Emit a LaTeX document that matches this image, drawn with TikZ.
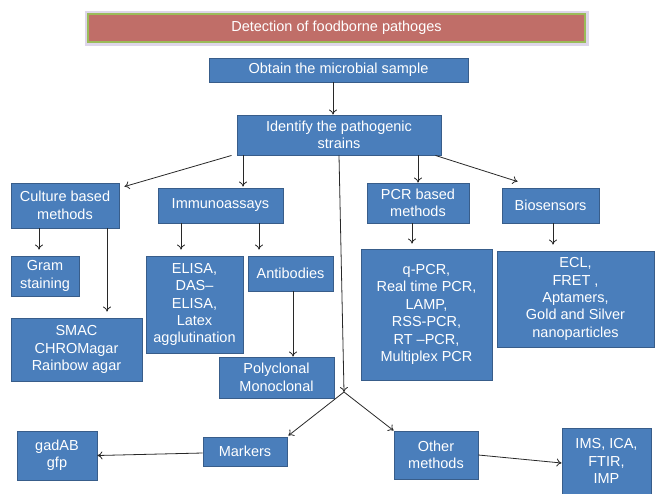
\documentclass[tikz,border=0pt]{standalone}
\usepackage{fontspec}
\setmainfont{Liberation Sans}
\usetikzlibrary{arrows.meta}
\definecolor{boxfill}{RGB}{74,126,187}
\definecolor{boxline}{RGB}{56,93,138}
\definecolor{titlefill}{RGB}{192,110,104}
\definecolor{titleline}{RGB}{155,187,89}
\definecolor{glow}{RGB}{222,214,234}
\definecolor{arrcol}{RGB}{40,40,40}
\begin{document}
\begin{tikzpicture}[x=1pt,y=-1pt,
  bx/.style={draw=boxline,fill=boxfill,line width=0.9pt,text=white,align=center,inner sep=0pt,
     font=\fontsize{14.5}{17.4}\selectfont},
  arr/.style={draw=arrcol,line width=0.8pt,-{To[length=5pt,width=8pt]}}]
\useasboundingbox (0,0) rectangle (655,493);
% title
\draw[glow,line width=3pt] (86,12) rectangle (587,44);
\node[draw=titleline,fill=titlefill,line width=2pt,text=white,inner sep=0pt,
  minimum width=497pt,minimum height=28pt,font=\fontsize{14.5}{17.4}\selectfont]
  (title) at (336.5,28) {Detection of foodborne pathoges};
% boxes
\node[bx,minimum width=259pt,minimum height=24pt] (obtain) at (338.5,70) {Obtain the microbial sample};
\node[bx,minimum width=204pt,minimum height=40pt] (identify) at (339,135) {Identify the pathogenic\\strains};
\node[bx,minimum width=108pt,minimum height=45pt] (culture) at (65,205.5) {Culture based\\methods};
\node[bx,minimum width=125pt,minimum height=35pt] (immuno) at (220.5,205.5) {Immunoassays};
\node[bx,minimum width=68pt,minimum height=40pt] (gram) at (45,276) {Gram\\staining};
\node[bx,minimum width=131pt,minimum height=63pt] (smac) at (76.5,349.5) {SMAC\\CHROMagar\\Rainbow agar};
\node[bx,minimum width=97pt,minimum height=97pt] (elisa) at (194.5,304.5) {ELISA,\\DAS--\\ELISA,\\Latex\\agglutination};
\node[bx,minimum width=85pt,minimum height=35pt] (antib) at (290.5,273.5) {Antibodies};
\node[bx,minimum width=115pt,minimum height=41pt] (poly) at (276.5,377.5) {Polyclonal\\Monoclonal};
\node[bx,minimum width=102pt,minimum height=40pt] (pcr) at (418,203) {PCR based\\methods};
\node[bx,minimum width=97pt,minimum height=35pt] (bio) at (550.5,205.5) {Biosensors};
\node[bx,minimum width=131pt,minimum height=131pt] (pcrlist) at (426.5,314.5) {q-PCR,\\Real time PCR,\\LAMP,\\RSS-PCR,\\RT --PCR,\\Multiplex PCR};
\node[bx,minimum width=157pt,minimum height=96pt] (biolist) at (575.5,299) {ECL,\\FRET ,\\Aptamers,\\Gold and Silver\\nanoparticles};
\node[bx,minimum width=80pt,minimum height=49pt] (gad) at (57,455.5) {gadAB\\gfp};
\node[bx,minimum width=84pt,minimum height=29pt] (markers) at (245,451.5) {Markers};
\node[bx,minimum width=84pt,minimum height=48pt] (other) at (436,455) {Other\\methods};
\node[bx,minimum width=89pt,minimum height=66pt] (ims) at (606.5,461) {IMS, ICA,\\FTIR,\\IMP};
\coordinate (J) at (344,392);
% connectors
\draw[arr] ([xshift=-5.5pt]obtain.south) -- ([xshift=-6pt]identify.north);
\draw[arr] ([xshift=-5pt]identify.south west) -- ([xshift=5pt,yshift=-4pt]culture.north east);
\draw[arr] ([xshift=-96pt]identify.south) -- ([xshift=22.5pt,yshift=1pt]immuno.north);
\draw[arr] (identify.south) -- (J);
\draw[arr] ([xshift=79pt]identify.south) -- (pcr.north);
\draw[arr] ([xshift=-6pt]identify.south east) -- ([xshift=16pt,yshift=6pt]bio.north west);
\draw[arr] ([xshift=-26pt]culture.south) -- ([xshift=-6pt,yshift=6pt]gram.north);
\draw[arr] ([xshift=42pt]culture.south) -- ([xshift=30.5pt,yshift=6pt]smac.north);
\draw[arr] ([xshift=-39.5pt]immuno.south) -- ([xshift=-13.5pt,yshift=6pt]elisa.north);
\draw[arr] ([xshift=38.5pt]immuno.south) -- ([xshift=-31.5pt,yshift=6pt]antib.north);
\draw[arr] ([xshift=2.5pt]antib.south) -- ([xshift=16.5pt]poly.north);
\draw[arr] ([xshift=-6pt]pcr.south) -- ([xshift=-14.5pt,yshift=5pt]pcrlist.north);
\draw[arr] ([xshift=2.5pt]bio.south) -- ([xshift=-22.5pt,yshift=6pt]biolist.north);
\draw[arr] (J) -- ([xshift=1pt,yshift=1pt]markers.north east);
\draw[arr] (J) -- (other.north west);
\draw[arr] ([yshift=-1.5pt]markers.west) -- (gad.east);
\draw[arr] (other.east) -- ([yshift=-2pt]ims.west);
\end{tikzpicture}
\end{document}
